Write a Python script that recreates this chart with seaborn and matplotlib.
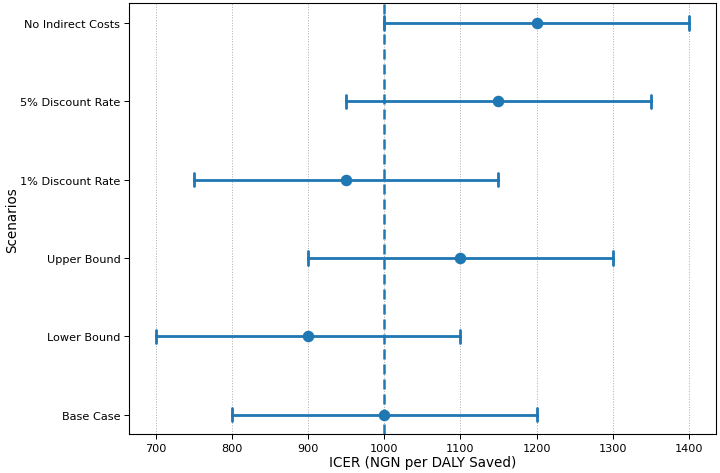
import pandas as pd
import seaborn as sns
import matplotlib.pyplot as plt

# Escenarios (de abajo hacia arriba en el gráfico) y valores ICER
escenarios = ['Base Case', 'Lower Bound', 'Upper Bound',
              '1% Discount Rate', '5% Discount Rate', 'No Indirect Costs']
icer = [1000, 900, 1100, 950, 1150, 1200]
icer_bajo = [800, 700, 900, 750, 950, 1000]
icer_alto = [1200, 1100, 1300, 1150, 1350, 1400]
base_case = 1000

# Tabla larga: bajo / central / alto por escenario
filas = []
for esc, lo, mid, hi in zip(escenarios, icer_bajo, icer, icer_alto):
    for v in (lo, mid, hi):
        filas.append({'Scenario': esc, 'ICER': v})
df = pd.DataFrame(filas)

sns.set_style("white")
plt.rcParams['text.color'] = 'black'
plt.rcParams['axes.labelcolor'] = 'black'
plt.rcParams['xtick.color'] = 'black'
plt.rcParams['ytick.color'] = 'black'

fig, ax = plt.subplots(figsize=(10, 6.583), dpi=72)
plt.subplots_adjust(left=0.179, right=0.994, top=0.991, bottom=0.082)

sns.pointplot(data=df, x='ICER', y='Scenario', order=escenarios[::-1],
              estimator='median', errorbar=('pi', 100), linestyle='none',
              color='#1f77b4', markersize=9.5, capsize=0.17,
              err_kws={'linewidth': 2.8}, ax=ax)

ax.axvline(base_case, color='#1f77b4', linestyle=(0, (4, 2)), linewidth=2.5, zorder=1)
ax.xaxis.grid(True, linestyle=':', color='#b0b0b0', linewidth=1)
ax.set_axisbelow(True)
ax.set_xlim(665, 1435)
ax.set_ylim(5.25, -0.25)

for s in ax.spines.values():
    s.set_color('black')
    s.set_linewidth(1.1)
ax.tick_params(axis='both', labelsize=11.2, length=5, width=1, left=True, bottom=True)
ax.set_xlabel('ICER (NGN per DALY Saved)', fontsize=13.5, labelpad=2)
ax.set_ylabel('Scenarios', fontsize=13.5, labelpad=1)

plt.savefig('out.png', dpi=72)
